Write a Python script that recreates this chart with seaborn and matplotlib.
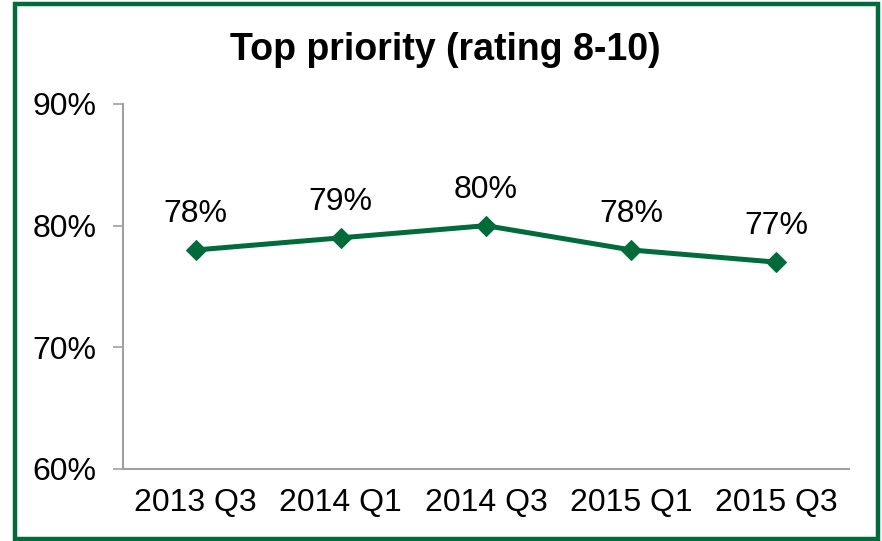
import pandas as pd
import matplotlib.pyplot as plt
import seaborn as sns
from matplotlib.patches import Rectangle
from matplotlib.ticker import FixedLocator, PercentFormatter

quarters = ["2013 Q3", "2014 Q1", "2014 Q3", "2015 Q1", "2015 Q3"]
top_priority = [78, 79, 80, 78, 77]
y_ticks = [60, 70, 80, 90]

df = pd.DataFrame({"Quarter": quarters, "Share": top_priority})

sns.set_style("white")
plt.rcParams['font.family'] = ['Liberation Sans', 'DejaVu Sans']
plt.rcParams['text.color'] = 'black'
plt.rcParams['xtick.labelcolor'] = 'black'
plt.rcParams['ytick.labelcolor'] = 'black'

green = "#006B3A"
grey = "#A0A0A0"

fig = plt.figure(figsize=(8.82, 5.41), dpi=100)
ax = fig.add_axes([0.1395, 0.1331, 0.8231, 0.6747])

sns.lineplot(data=df, x="Quarter", y="Share", ax=ax, color=green,
             linewidth=3.6, marker="D", markersize=10,
             markeredgecolor=green, sort=False)

for i, v in enumerate(top_priority):
    ax.annotate(f"{v}%", (i, v), xytext=(0, 26), textcoords="offset points",
                ha="center", va="center", fontsize=23, color="black")

ax.set_xlim(-0.5, len(quarters) - 0.5)
ax.set_ylim(60, 90)
ax.set_yticks(y_ticks)
ax.yaxis.set_major_formatter(PercentFormatter(decimals=0))
ax.xaxis.set_minor_locator(FixedLocator([i - 0.5 for i in range(len(quarters) + 1)]))
ax.tick_params(axis="x", which="major", length=0, pad=14, labelsize=23, labelcolor="black")
ax.tick_params(axis="x", which="minor", direction="in", length=7, width=1.2, color=grey)
ax.tick_params(axis="y", direction="out", length=7, width=1.2, color=grey,
               pad=12, labelsize=23, labelcolor="black", left=True)
ax.set_xlabel("")
ax.set_ylabel("")

for side in ["top", "right"]:
    ax.spines[side].set_visible(False)
for side in ["left", "bottom"]:
    ax.spines[side].set_color(grey)
    ax.spines[side].set_linewidth(1.5)

fig.text(0.505, 1 - 50 / 541, "Top priority (rating 8-10)", ha="center", va="center",
         fontsize=27, fontweight="bold", color="black")

fig.patches.append(Rectangle((15 / 882, 2 / 541), 863 / 882, 535 / 541,
                             transform=fig.transFigure, fill=False,
                             edgecolor=green, linewidth=3.2))

fig.savefig("out.png", dpi=100)
